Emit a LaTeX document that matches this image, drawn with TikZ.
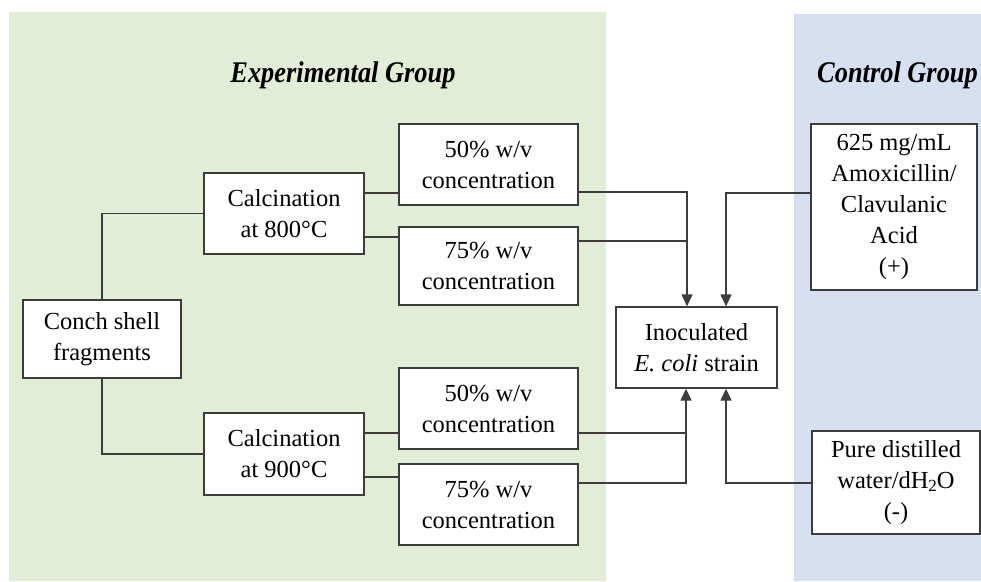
\documentclass[tikz,border=0pt]{standalone}
\usepackage{fontspec}
\setmainfont{Liberation Serif}
\newfontfamily\titlefont[FakeStretch=0.88]{Liberation Serif}
\usetikzlibrary{arrows.meta}
\definecolor{expgreen}{HTML}{E2EDD8}
\definecolor{ctlblue}{HTML}{D7E0F0}
\definecolor{linegray}{HTML}{3C3C3C}
\begin{document}
\begin{tikzpicture}[x=1pt,y=-1pt,
  every node/.style={font=\fontsize{24.5}{31}\selectfont},
  box/.style={draw=linegray, line width=1.4pt, fill=white, align=center, inner sep=0pt},
  conn/.style={draw=linegray, line width=1.4pt},
  arr/.style={conn, -{Triangle[width=11pt,length=12pt]}},
  title/.style={font=\titlefont\fontsize{30}{34}\selectfont\bfseries\itshape}]
\useasboundingbox (0,0) rectangle (981,581);
\fill[white] (0,0) rectangle (981,581);
\fill[expgreen] (9,12) rectangle (606,581);
\fill[ctlblue] (794,14) rectangle (981,581);

\node[title] (tExp) at (343,75) {Experimental Group};
\node[title, anchor=west, inner sep=0pt] (tCtl) at (817,75) {Control Group};

\node[box, minimum width=158pt, minimum height=78pt] (conch) at (102,339) {Conch shell\\fragments};
\node[box, minimum width=160pt, minimum height=81pt] (calc8) at (284,213.5) {Calcination\\at 800°C};
\node[box, minimum width=160pt, minimum height=82pt] (calc9) at (284,454) {Calcination\\at 900°C};
\node[box, minimum width=179pt, minimum height=81pt] (c50a) at (488.5,164.5) {50\% w/v\\concentration};
\node[box, minimum width=179pt, minimum height=78pt] (c75a) at (488.5,266) {75\% w/v\\concentration};
\node[box, minimum width=179pt, minimum height=81pt] (c50b) at (488.5,408.5) {50\% w/v\\concentration};
\node[box, minimum width=179pt, minimum height=81pt] (c75b) at (488.5,504.5) {75\% w/v\\concentration};
\node[box, minimum width=161pt, minimum height=81pt] (inoc) at (696.5,347.5) {Inoculated\\\textit{E. coli} strain};
\node[box, minimum width=166pt, minimum height=166pt] (amox) at (894,207) {625 mg/mL\\Amoxicillin/\\Clavulanic\\Acid\\(+)};
\node[box, minimum width=168pt, minimum height=103pt] (water) at (896,482.5) {Pure distilled\\water/dH\raisebox{-0.25ex}{\fontsize{17}{20}\selectfont 2}O\\(-)};

% conch to calcinations
\draw[conn] (calc8.west) -| (conch.north);
\draw[conn] (calc9.west) -| (conch.south);

% calcination to concentrations
\coordinate (y1) at (0,193);
\coordinate (y2) at (0,237);
\coordinate (y3) at (0,433);
\coordinate (y4) at (0,477);
\draw[conn] (calc8.east |- y1) -- (c50a.west |- y1);
\draw[conn] (calc8.east |- y2) -- (c75a.west |- y2);
\draw[conn] (calc9.east |- y3) -- (c50b.west |- y3);
\draw[conn] (calc9.east |- y4) -- (c75b.west |- y4);

% to inoculated
\coordinate (ja) at (687,192);
\coordinate (jb) at (726,193);
\coordinate (jc) at (686,433);
\coordinate (jd) at (726,483);
\coordinate (ya2) at (0,241);
\coordinate (yb2) at (0,483);
\draw[arr] (c50a.east |- ja) -| (inoc.north -| ja);
\draw[conn] (c75a.east |- ya2) -- (ja |- ya2);
\draw[arr] (amox.west |- jb) -| (inoc.north -| jb);
\draw[conn] (c50b.east |- jc) -- (jc);
\draw[arr] (c75b.east |- yb2) -| (inoc.south -| jc);
\draw[arr] (water.west |- jd) -| (inoc.south -| jd);
\end{tikzpicture}
\end{document}
